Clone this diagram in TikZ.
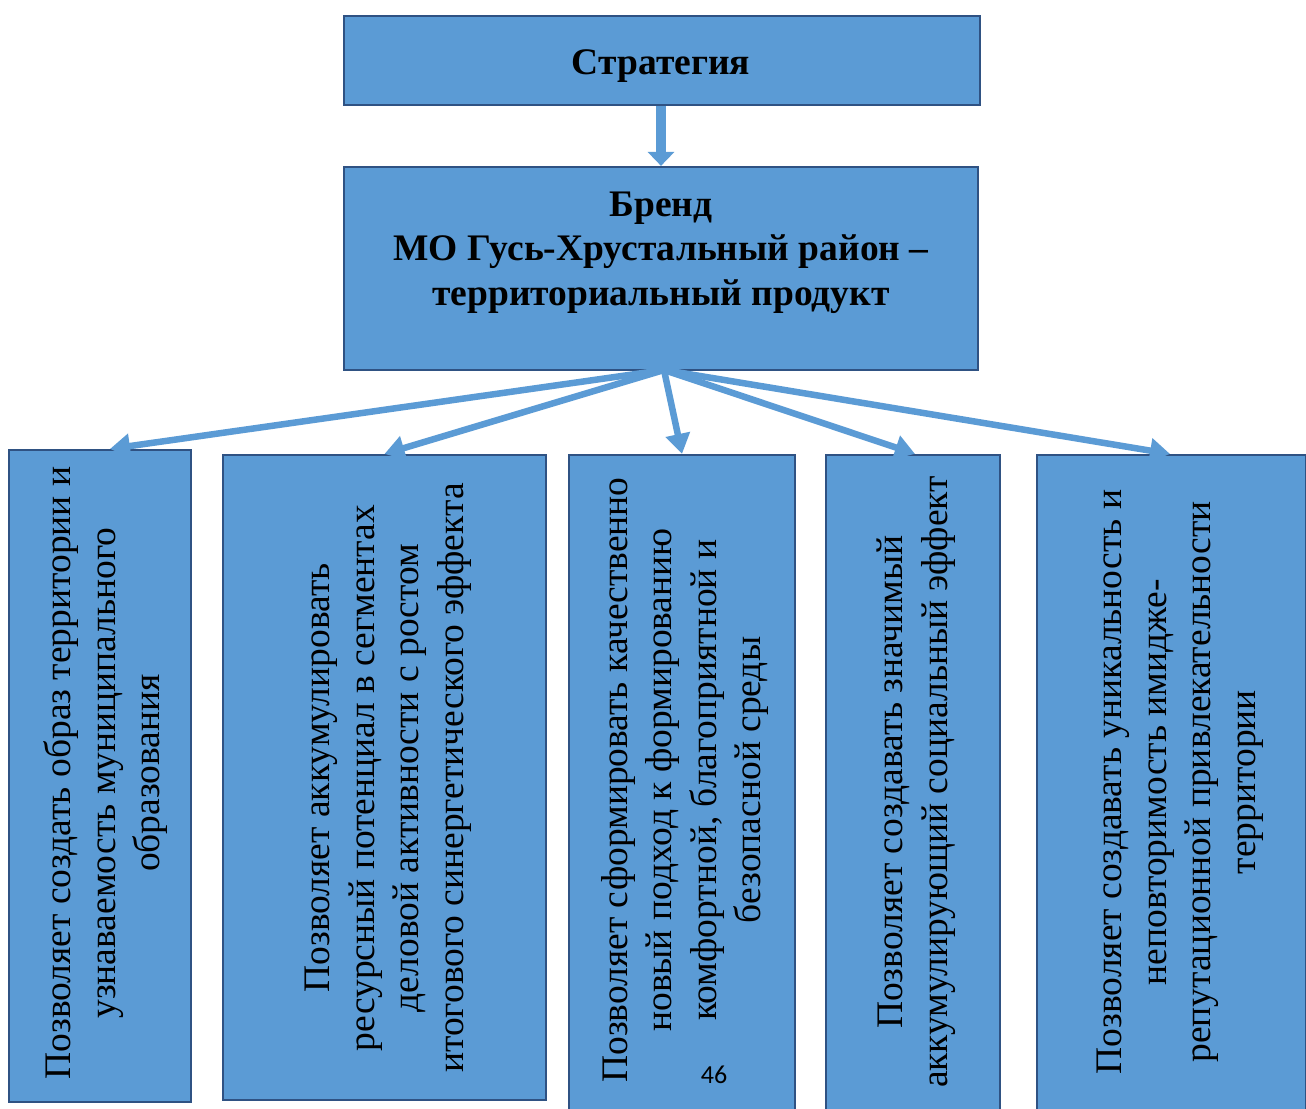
\documentclass[tikz,border=0pt]{standalone}
\usepackage{fontspec}
\setmainfont{Liberation Serif}
\newfontfamily\serifbody{Liberation Serif}
\newfontfamily\pagefont{Carlito}
\usetikzlibrary{arrows.meta}
\definecolor{boxfill}{HTML}{5B9BD5}
\definecolor{boxline}{HTML}{2F5283}
\tikzset{
  box/.style={draw=boxline, line width=2.2pt, fill=boxfill, inner sep=0pt},
  headtext/.style={font=\serifbody\fontsize{37.5}{44.5}\selectfont\bfseries, align=center},
  vtext/.style={rotate=90, align=center, font=\serifbody\fontsize{37.5}{44.5}\selectfont, inner sep=0pt},
  bigarrow/.style={draw=boxfill, line width=10pt, -{Triangle[width=26pt,length=14pt]}},
  fanarrow/.style={draw=boxfill, line width=6.5pt, -{Triangle[width=24pt,length=20pt]}, shorten <=0pt}
}
\begin{document}
\begin{tikzpicture}[x=1pt,y=-1pt]
\clip (0,0) rectangle (1306,1108);
\fill[white] (0,0) rectangle (1306,1108);
% top boxes
\node[box, minimum width=636pt, minimum height=89pt] (strat) at (662,60.5) {};
\node[headtext] (stratT) at (661,66) {Стратегия};
\node[box, minimum width=634pt, minimum height=203pt] (brand) at (661,268.5) {};
\node[headtext, anchor=north] (brandT) at (661,188) {Бренд\\МО Гусь-Хрустальный район –\\территориальный продукт};
% bottom boxes
\node[box, minimum width=182pt, minimum height=652pt] (b1) at (100,776) {};
\node[box, minimum width=323pt, minimum height=645pt] (b2) at (384.5,777.5) {};
\node[box, minimum width=226pt, minimum height=660pt] (b3) at (682,785) {};
\node[box, minimum width=174pt, minimum height=665pt] (b4) at (913,787.5) {};
\node[box, minimum width=269pt, minimum height=665pt] (b5) at (1171.5,787.5) {};
% texts
\node[vtext] (t1) at (106,773) {Позволяет создать образ территории и\\узнаваемость муниципального\\образования};
\node[vtext] (t2) at (388,778) {Позволяет аккумулировать\\ресурсный потенциал в сегментах\\деловой активности с ростом\\итогового синергетического эффекта};
\node[vtext] (t3) at (685,780) {Позволяет сформировать качественно\\новый подход к формированию\\комфортной, благоприятной и\\безопасной среды};
\node[vtext] (t4) at (916,782) {Позволяет создавать значимый\\аккумулирующий социальный эффект};
\node[vtext] (t5) at (1180,782) {Позволяет создавать уникальность и\\неповторимость имидже-\\репутационной привлекательности\\территории};
\node[font=\pagefont\fontsize{26}{30}\selectfont, inner sep=0pt] (pg) at (714,1075) {46};
% arrows
\draw[bigarrow] (strat.south -| brand.north) -- (brand.north);
\coordinate (hub) at (664,370);
\draw[fanarrow] (hub) -- (b1.north -| 110,0);
\draw[fanarrow] (hub) -- (b2.north);
\draw[fanarrow] (hub) -- (b3.north);
\draw[fanarrow] (hub) -- (b4.north -| 915,0);
\draw[fanarrow] (hub) -- (b5.north -| 1170,0);
\end{tikzpicture}
\end{document}
